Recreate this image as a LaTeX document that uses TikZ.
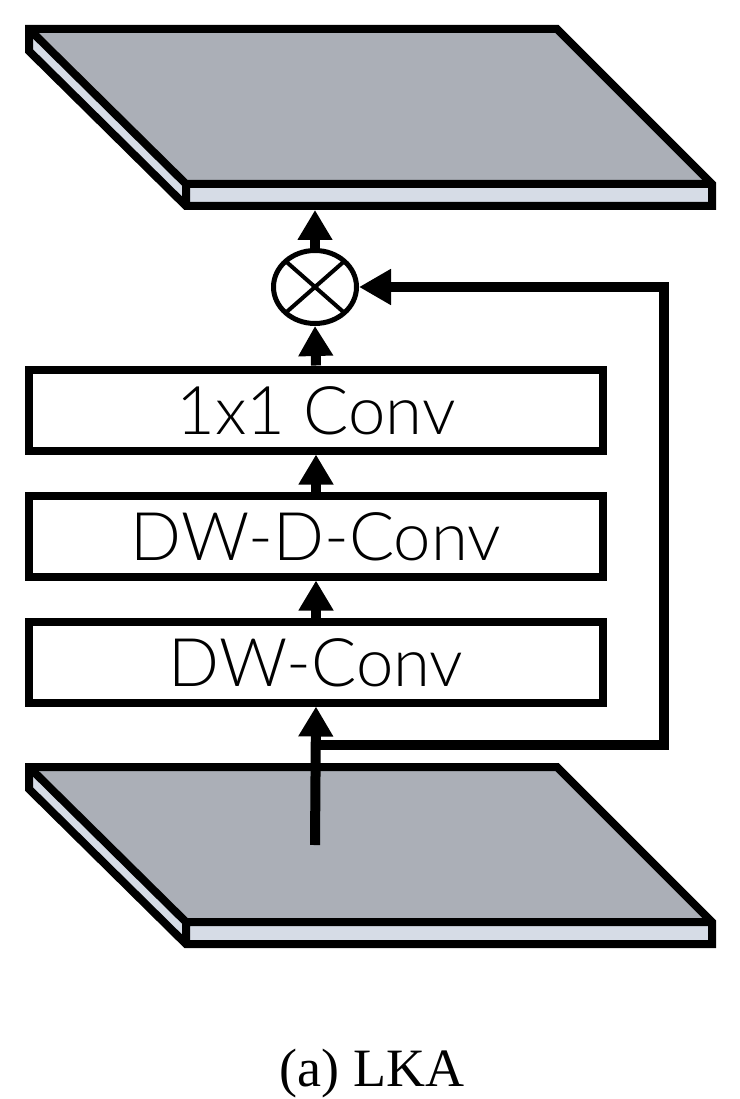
\documentclass[tikz,border=0pt]{standalone}
\usepackage{fontspec}
\setmainfont{Liberation Serif}
\newfontfamily\boxfont{Lato Light}
\usetikzlibrary{arrows.meta,shapes.geometric}
\definecolor{slabtop}{RGB}{171,175,183}
\definecolor{slabside}{RGB}{214,220,230}
\tikzset{
  convbox/.style={draw, line width=8pt, minimum width=574pt, minimum height=81pt,
    font=\boxfont\fontsize{67}{72}\selectfont, text height=48pt, text depth=0pt, inner sep=0pt},
  flowarrow/.style={line width=10pt, -{Triangle[length=30pt,width=33pt]}},
  skiparrow/.style={line width=10pt, line join=miter, -{Triangle[length=32pt,width=34pt]}},
  slabline/.style={line width=8pt, line join=miter},
  mulnode/.style={draw, ellipse, line width=5pt, minimum width=83pt, minimum height=73pt, inner sep=0pt,
    path picture={\draw[line width=4pt] (path picture bounding box.north west) -- (path picture bounding box.south east)
      (path picture bounding box.north east) -- (path picture bounding box.south west);}},
}
\begin{document}
\begin{tikzpicture}[x=1pt,y=-1pt]
\useasboundingbox (0,0) rectangle (739,1099);
% top slab
\begin{scope}
\fill[slabtop] (29,29) -- (557,29) -- (712,184) -- (186,184) -- cycle;
\fill[slabside] (186,184) rectangle (712,206);
\fill[slabside] (29,29) -- (29,51) -- (186,206) -- (186,184) -- cycle;
\draw[slabline] (29,29) -- (557,29) -- (712,184) -- (712,206) -- (186,206) -- (29,51) -- cycle;
\draw[slabline] (29,29) -- (186,184) -- (712,184) (186,184) -- (186,206);
\end{scope}
% bottom slab
\begin{scope}[yshift=-738pt]
\fill[slabtop] (29,29) -- (557,29) -- (712,184) -- (186,184) -- cycle;
\fill[slabside] (186,184) rectangle (712,206);
\fill[slabside] (29,29) -- (29,51) -- (186,206) -- (186,184) -- cycle;
\draw[slabline] (29,29) -- (557,29) -- (712,184) -- (712,206) -- (186,206) -- (29,51) -- cycle;
\draw[slabline] (29,29) -- (186,184) -- (712,184) (186,184) -- (186,206);
\end{scope}
\coordinate (outslab) at (315,210);
\coordinate (inslab) at (315,845);
\coordinate (branch) at (315,745);
\coordinate (skipcorner) at (664,745);

\node[convbox] (c1) at (316,410) {1x1 Conv};
\node[convbox] (dwd) at (316,536) {DW-D-Conv};
\node[convbox] (dw) at (316,662) {DW-Conv};
\node[mulnode] (mul) at (315,287) {};

\draw[flowarrow] (inslab) -- (dw.south);
\draw[flowarrow] (dw.north) -- (dwd.south);
\draw[flowarrow] (dwd.north) -- (c1.south);
\draw[flowarrow] (c1.north) -- (mul.south);
\draw[flowarrow] (mul.north) -- (outslab);
\draw[skiparrow] (branch) -- (skipcorner) |- (mul.east);

\node[anchor=base, font=\fontsize{54}{60}\selectfont] (cap) at (372,1086) {(a) LKA};
\end{tikzpicture}
\end{document}
